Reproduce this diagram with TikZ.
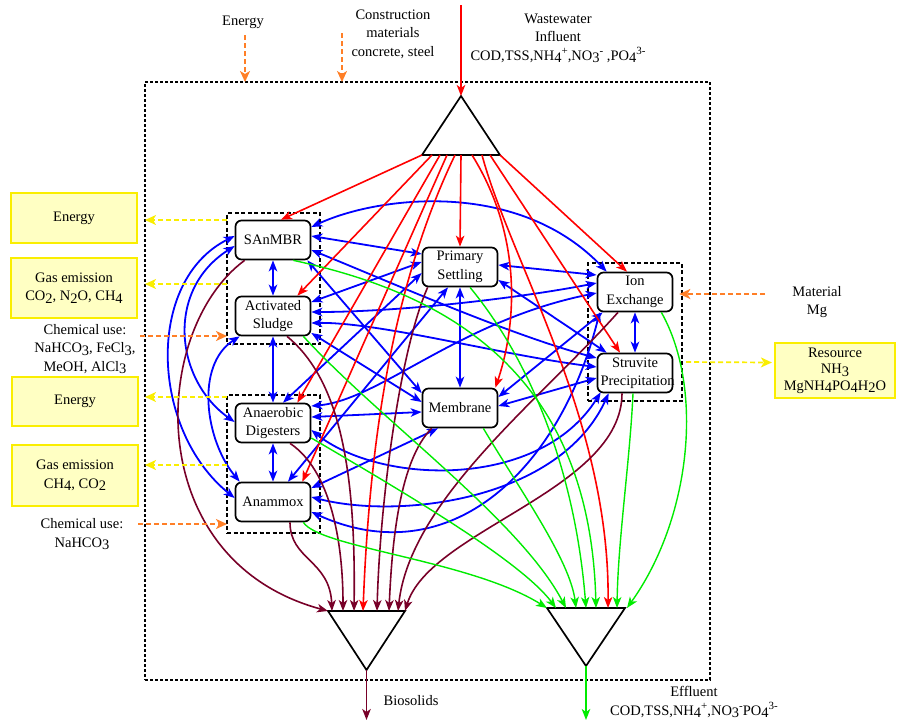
\documentclass[tikz,border=0pt]{standalone}
\usepackage{fontspec}
\setmainfont{Liberation Serif}
\usetikzlibrary{arrows.meta,calc}
\definecolor{cblue}{RGB}{0,0,255}
\definecolor{cred}{RGB}{255,0,0}
\definecolor{cgreen}{RGB}{0,235,0}
\definecolor{cmaroon}{RGB}{120,0,40}
\definecolor{corange}{RGB}{255,127,39}
\definecolor{cyel}{RGB}{250,238,0}
\definecolor{cyelfill}{RGB}{255,255,195}
\newcommand{\fs}{\fontsize{14.5}{18.5}\selectfont}
\newcommand{\lowr}[1]{\raisebox{-0.35ex}{#1}}
\newcommand{\upr}[1]{\raisebox{0.85ex}{\fontsize{11}{11}\selectfont #1}}
\begin{document}
\begin{tikzpicture}[x=1pt, y=-1pt,
  >={Stealth[length=11pt,width=8.5pt,inset=3pt]},
  font=\fs,
  proc/.style={draw, line width=1.7pt, rounded corners=6pt, fill=white, minimum width=75pt, minimum height=39pt, text width=69pt, align=center, inner xsep=3pt, inner ysep=1pt},
  grp/.style={draw, line width=1.4pt, dash pattern=on 4pt off 2.5pt, inner sep=0pt, outer sep=0pt},
  ybox/.style={draw=cyel, line width=2.2pt, fill=cyelfill, align=center, inner sep=0pt},
  lbl/.style={align=center, inner sep=0pt},
  bl/.style={cblue, line width=1.8pt, <->},
  rd/.style={cred, line width=1.6pt, ->},
  mr/.style={cmaroon, line width=1.6pt, ->},
  gr/.style={cgreen, line width=1.4pt, ->},
  ya/.style={cyel, line width=1.7pt, dash pattern=on 5pt off 3pt, -{Stealth[length=11pt,width=10pt,inset=3pt]}},
  oa/.style={corange, line width=1.7pt, dash pattern=on 5pt off 3pt, -{Stealth[length=11pt,width=10pt,inset=3pt]}},
  tri/.style={draw, line width=1.7pt},
  anc/.style={minimum width=78pt, minimum height=59pt, inner sep=0pt, outer sep=0pt}]
\useasboundingbox (0,0) rectangle (897,724);

% system boundary
\node[draw, line width=1.4pt, dash pattern=on 3pt off 2pt, minimum width=565pt, minimum height=598pt, inner sep=0pt, outer sep=0pt] (sys) at (427.5,381) {};

% group boxes
\node[grp, minimum width=93pt, minimum height=131pt] (g1) at (273.5,278.5) {};
\node[grp, minimum width=93pt, minimum height=138pt] (g2) at (273.5,464) {};
\node[grp, minimum width=94pt, minimum height=138pt] (g3) at (635,332) {};

% triangles
\node[anc] (tin) at (461,125.5) {};
\draw[tri] (tin.north) -- (tin.south east) -- (tin.south west) -- cycle;
\node[anc, minimum width=77pt] (tbl) at (366.5,640.5) {};
\draw[tri] (tbl.north west) -- (tbl.north east) -- (tbl.south) -- cycle;
\node[anc, minimum height=58pt] (tbr) at (586,637) {};
\draw[tri] (tbr.north west) -- (tbr.north east) -- (tbr.south) -- cycle;

% process nodes
\node[proc] (sanmbr) at (273,240) {SAnMBR};
\node[proc] (as) at (273,316) {Activated\\Sludge};
\node[proc] (ad) at (273,423) {Anaerobic\\Digesters};
\node[proc] (anammox) at (273,502) {Anammox};
\node[proc] (primary) at (460,267) {Primary\\Settling};
\node[proc] (membrane) at (460,408) {Membrane};
\node[proc] (ionex) at (635,292) {Ion\\Exchange};
\node[proc] (struvite) at (635,373) {Struvite\\Precipitation};

% yellow boxes
\node[ybox, minimum width=126pt, minimum height=50pt] (eb1) at (74,218) {Energy};
\node[ybox, minimum width=126pt, minimum height=60pt] (gb1) at (74,288) {Gas emission\\CO\lowr{2}, N\lowr{2}O, CH\lowr{4}};
\node[ybox, minimum width=126pt, minimum height=49pt] (eb2) at (75,401.5) {Energy};
\node[ybox, minimum width=126pt, minimum height=61pt] (gb2) at (75,475.5) {Gas emission\\CH\lowr{4}, CO\lowr{2}};
\node[ybox, minimum width=120pt, minimum height=55pt, font=\fontsize{14.5}{16.5}\selectfont] (res) at (835,370.5) {Resource\\NH\lowr{3}\\MgNH\lowr{4}PO\lowr{4}H\lowr{2}O};

% labels
\node[lbl] (chem1) at (85,349) {Chemical use:\\NaHCO\lowr{3}, FeCl\lowr{3},\\MeOH, AlCl\lowr{3}};
\node[lbl] (chem2) at (82,534) {Chemical use:\\NaHCO\lowr{3}};
\node[lbl] (tenergy) at (243,22) {Energy};
\node[lbl] (tcons) at (393,34) {Construction\\materials\\concrete, steel};
\node[lbl] (tww) at (558,38) {Wastewater\\Influent\\COD,TSS,NH\lowr{4}\upr{+},NO\lowr{3}\upr{-} ,PO\lowr{4}\upr{3-}};
\node[lbl] (tmat) at (817,302) {Material\\Mg};
\node[lbl] (tbio) at (411,701) {Biosolids};
\node[lbl] (teff) at (694,702) {Effluent\\COD,TSS,NH\lowr{4}\upr{+},NO\lowr{3}\upr{-}PO\lowr{4}\upr{3-}};

% ---------- blue connectors ----------
\draw[bl] (sanmbr.south) -- (as.north);
\draw[bl] (as.south) -- (ad.north);
\draw[bl] (ad.south) -- (anammox.north);
\draw[bl] (primary.south) -- (membrane.north);
\draw[bl] (ionex.south) -- (struvite.north);
\draw[bl] ($(sanmbr.east)+(0,-4)$) -- ($(primary.west)+(0,-13)$);
\draw[bl] ($(sanmbr.east)+(0,-13)$) .. controls (380,195) and (520,180) .. ($(ionex.north west)+(10,0)$);
\draw[bl] ($(sanmbr.east)+(0,10)$) .. controls (390,282) and (510,335) .. ($(struvite.west)+(0,-15)$);
\draw[bl] ($(sanmbr.south east)+(-4,0)$) -- ($(membrane.west)+(0,-15)$);
\draw[bl] ($(as.east)+(0,-14)$) -- ($(primary.west)+(0,-5)$);
\draw[bl] ($(as.east)+(0,-4)$) .. controls (400,312) and (520,298) .. ($(ionex.west)+(0,-9)$);
\draw[bl] ($(as.east)+(0,7)$) .. controls (380,322) and (500,355) .. ($(struvite.west)+(0,-6)$);
\draw[bl] ($(as.east)+(0,17)$) -- ($(membrane.west)+(0,-6)$);
\draw[bl] ($(as.south west)+(5,0)$) .. controls (195,365) and (205,440) .. ($(anammox.north west)+(5,0)$);
\draw[bl] ($(sanmbr.west)+(0,6)$) .. controls (165,290) and (175,380) .. ($(ad.west)+(0,-1)$);
\draw[bl] ($(sanmbr.west)+(0,-4)$) .. controls (145,280) and (150,430) .. ($(anammox.west)+(0,-4)$);
\draw[bl] ($(primary.west)+(0,6)$) -- ($(ad.north)+(10,0)$);
\draw[bl] ($(primary.south)+(-12,0)$) -- ($(anammox.north)+(15,0)$);
\draw[bl] ($(primary.east)+(0,-2)$) -- ($(ionex.west)+(0,-17)$);
\draw[bl] ($(primary.east)+(0,13)$) -- ($(struvite.north west)+(10,0)$);
\draw[bl] ($(ionex.south west)+(6,0)$) -- ($(membrane.east)+(0,-11)$);
\draw[bl] ($(struvite.west)+(0,5)$) -- ($(membrane.east)+(0,-2)$);
\draw[bl] ($(ad.east)+(0,-6)$) -- ($(membrane.west)+(0,4)$);
\draw[bl] ($(membrane.south)+(-22,0)$) -- ($(anammox.east)+(0,-14)$);
\draw[bl] ($(ad.east)+(0,-17)$) .. controls (380,400) and (460,320) .. ($(ionex.west)+(0,1)$);
\draw[bl] ($(ad.east)+(0,7)$) .. controls (380,485) and (540,490) .. ($(struvite.south west)+(4,-1)$);
\draw[bl] ($(anammox.east)+(0,-5)$) .. controls (400,520) and (560,500) .. ($(struvite.south west)+(12,0)$);
\draw[bl] ($(anammox.east)+(0,10)$) .. controls (450,575) and (560,470) .. ($(ionex.south west)+(3,0)$);

% ---------- red connectors ----------
\coordinate (ia) at (461,5);
\draw[rd] (ia) -- (tin.north);
\draw[rd] (tin.south west) -- ($(sanmbr.north)+(8,0)$);
\draw[rd] ($(tin.south west)+(10,0)$) -- ($(as.north east)+(-14,0)$);
\draw[rd] ($(tin.south west)+(18,0)$) -- ($(ad.north east)+(-14,0)$);
\draw[rd] ($(tin.south west)+(25,0)$) -- ($(anammox.north east)+(-9,0)$);
\draw[rd] (tin.south) -- (primary.north);
\draw[rd] ($(tin.south west)+(33,0)$) .. controls (395,280) and (370,430) .. ($(tbl.north west)+(35,0)$);
\draw[rd] ($(tin.south)+(11,0)$) .. controls (525,240) and (515,330) .. ($(membrane.north east)+(-3,0)$);
\draw[rd] ($(tin.south)+(21,0)$) .. controls (510,260) and (610,420) .. ($(tbr.north)+(22,0)$);
\draw[rd] ($(tin.south east)+(-10,0)$) -- ($(struvite.north)+(-15,0)$);
\draw[rd] (tin.south east) -- ($(ionex.north)+(-8,0)$);

% ---------- maroon connectors ----------
\draw[mr] ($(sanmbr.south west)+(10,0)$) .. controls (150,330) and (140,560) .. (tbl.north west);
\draw[mr] ($(as.south)+(14,0)$) .. controls (340,380) and (356,470) .. ($(tbl.north west)+(26,0)$);
\draw[mr] ($(ad.south)+(17,0)$) .. controls (330,470) and (343,540) .. ($(tbl.north west)+(15,0)$);
\draw[mr] ($(anammox.south)+(17,0)$) .. controls (290,560) and (330,560) .. ($(tbl.north west)+(4,0)$);
\draw[mr] ($(primary.south west)+(6,0)$) .. controls (400,350) and (380,500) .. ($(tbl.north west)+(49,0)$);
\draw[mr] ($(membrane.south west)+(10,0)$) .. controls (400,460) and (392,540) .. ($(tbl.north west)+(61,0)$);
\draw[mr] ($(ionex.south)+(-17,0)$) .. controls (540,400) and (410,500) .. ($(tbl.north west)+(70,0)$);
\draw[mr] ($(struvite.south)+(-13,0)$) .. controls (622,490) and (430,530) .. (tbl.north east);
\coordinate (bsend) at (366.5,720);
\draw[mr] (tbl.south) -- (bsend);

% ---------- green connectors ----------
\draw[gr] ($(sanmbr.south east)+(-18,0)$) .. controls (430,290) and (590,360) .. ($(tbr.north)+(10,0)$);
\draw[gr] ($(as.south east)+(-8,0)$) .. controls (380,420) and (520,520) .. ($(tbr.north)+(-20,0)$);
\draw[gr] ($(ad.east)+(0,15)$) .. controls (400,490) and (520,560) .. ($(tbr.north)+(-30,0)$);
\draw[gr] ($(anammox.south east)+(-8,0)$) .. controls (320,548) and (470,560) .. (tbr.north west);
\draw[gr] ($(primary.south)+(10,0)$) .. controls (530,360) and (575,470) .. (tbr.north);
\draw[gr] ($(membrane.south east)+(-15,0)$) .. controls (520,490) and (570,560) .. ($(tbr.north)+(-10,0)$);
\draw[gr] ($(struvite.south)+(-2,0)$) .. controls (630,460) and (618,540) .. ($(tbr.north east)+(-8,0)$);
\draw[gr] ($(ionex.south east)+(-12,0)$) .. controls (705,390) and (690,520) .. ($(tbr.north east)+(2,0)$);
\coordinate (efend) at (586,720);
\draw[gr] (tbr.south) -- (efend);

% ---------- dashed inputs / outputs ----------
\coordinate (ea) at (245,35);
\draw[oa] (ea) -- (ea |- sys.north);
\coordinate (ca) at (342,33);
\draw[oa] (ca) -- (ca |- sys.north);
\coordinate (ma) at (765,294);
\draw[oa] (ma) -- ($(ionex.east)+(6,2)$);
\draw[ya] ($(g3.east)+(4,30)$) -- ($(res.west)+(-2,-8)$);

\coordinate (y1) at ($(g1.north west)+(0,7)$);
\draw[ya] (y1) -- (y1 -| sys.west);
\coordinate (y2) at ($(g1.north west)+(0,71)$);
\draw[ya] (y2) -- (y2 -| sys.west);
\coordinate (o1) at ($(g1.south west)+(0,-8)$);
\draw[oa] ($(o1 -| sys.west)+(-5,0)$) -- (o1);
\coordinate (y3) at ($(g2.north west)+(0,2)$);
\draw[ya] (y3) -- (y3 -| sys.west);
\coordinate (y4) at ($(g2.north west)+(0,70)$);
\draw[ya] (y4) -- (y4 -| sys.west);
\coordinate (o2) at ($(g2.south west)+(0,-9)$);
\draw[oa] ($(o2 -| sys.west)+(-7,0)$) -- (o2);
\end{tikzpicture}
\end{document}
